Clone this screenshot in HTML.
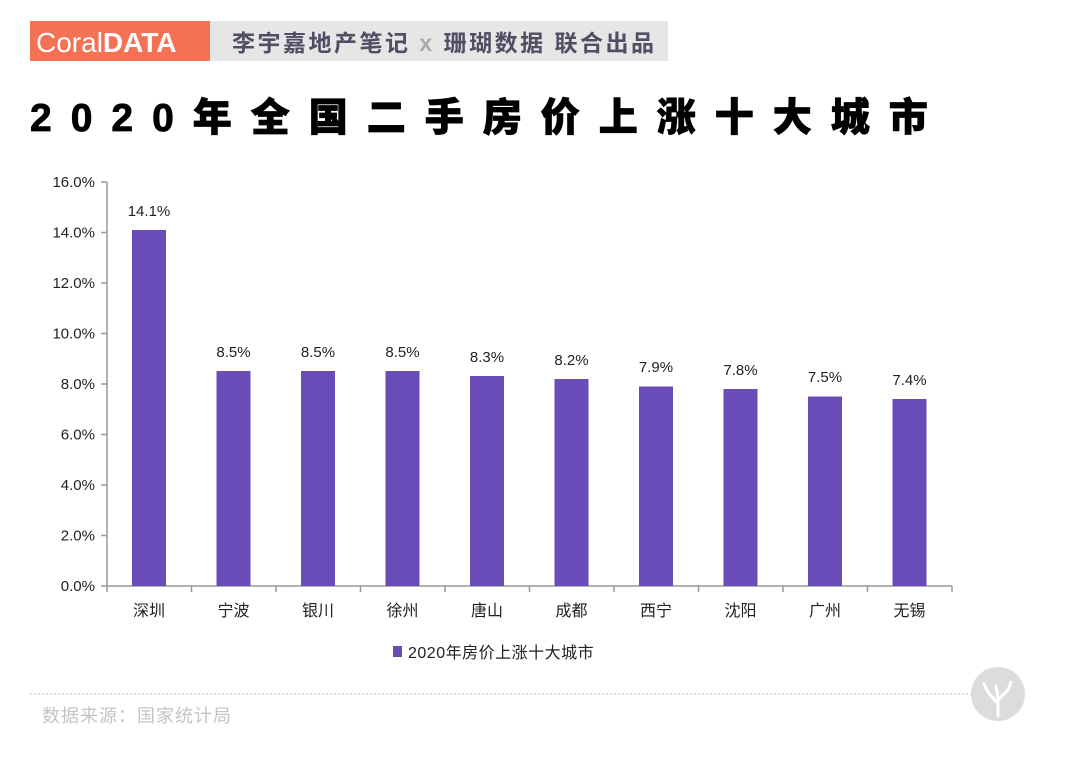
<!DOCTYPE html>
<html><head><meta charset="utf-8"><style>
body{margin:0;width:1080px;height:754px;background:#fff;overflow:hidden;font-family:"Liberation Sans","Noto Sans CJK SC",sans-serif;}
</style></head><body>
<svg width="1080" height="754" xmlns="http://www.w3.org/2000/svg" font-family="Liberation Sans, Noto Sans CJK SC, sans-serif">
<rect x="30" y="21" width="180" height="40" fill="#f47254"/>
<rect x="210" y="21" width="458" height="40" fill="#e6e6e6"/>
<text x="36" y="52" font-size="28" fill="#fff">Coral<tspan font-weight="bold">DATA</tspan></text>
<text x="232" y="51" font-size="23" font-weight="bold" fill="#4f4e63" letter-spacing="2.5">李宇嘉地产笔记 <tspan fill="#aaa">x</tspan> 珊瑚数据 联合出品</text>
<text x="30" y="131" font-size="39" font-weight="900" fill="#000" letter-spacing="19" stroke="#000" stroke-width="0.8">2020年全国二手房价上涨十大城市</text>
<g font-size="15" fill="#222" text-anchor="end">
<text x="95" y="591">0.0%</text><text x="95" y="540.5">2.0%</text><text x="95" y="490">4.0%</text><text x="95" y="439.5">6.0%</text><text x="95" y="389">8.0%</text><text x="95" y="338.5">10.0%</text><text x="95" y="288">12.0%</text><text x="95" y="237.5">14.0%</text><text x="95" y="187">16.0%</text>
</g>
<g stroke="#999" stroke-width="1.5">
<line x1="107" y1="182" x2="107" y2="592"/><line x1="101" y1="586" x2="952" y2="586"/>
<line x1="101" y1="182" x2="107" y2="182"/><line x1="101" y1="232.5" x2="107" y2="232.5"/><line x1="101" y1="283" x2="107" y2="283"/><line x1="101" y1="333.5" x2="107" y2="333.5"/><line x1="101" y1="384" x2="107" y2="384"/><line x1="101" y1="434.5" x2="107" y2="434.5"/><line x1="101" y1="485" x2="107" y2="485"/><line x1="101" y1="535.5" x2="107" y2="535.5"/>
<line x1="191.5" y1="586" x2="191.5" y2="592"/><line x1="276" y1="586" x2="276" y2="592"/><line x1="360.5" y1="586" x2="360.5" y2="592"/><line x1="445" y1="586" x2="445" y2="592"/><line x1="529.5" y1="586" x2="529.5" y2="592"/><line x1="614" y1="586" x2="614" y2="592"/><line x1="698.5" y1="586" x2="698.5" y2="592"/><line x1="783" y1="586" x2="783" y2="592"/><line x1="867.5" y1="586" x2="867.5" y2="592"/><line x1="952" y1="586" x2="952" y2="592"/>
</g>
<g fill="#694cb7">
<rect x="132" y="230" width="34" height="356"/>
<rect x="216.5" y="371" width="34" height="215"/>
<rect x="301" y="371" width="34" height="215"/>
<rect x="385.5" y="371" width="34" height="215"/>
<rect x="470" y="376" width="34" height="210"/>
<rect x="554.5" y="379" width="34" height="207"/>
<rect x="639" y="386.5" width="34" height="199.5"/>
<rect x="723.5" y="389" width="34" height="197"/>
<rect x="808" y="396.5" width="34" height="189.5"/>
<rect x="892.5" y="399" width="34" height="187"/>
</g>
<g font-size="15" fill="#222" text-anchor="middle">
<text x="149" y="216">14.1%</text><text x="233.5" y="357">8.5%</text><text x="318" y="357">8.5%</text><text x="402.5" y="357">8.5%</text><text x="487" y="362">8.3%</text><text x="571.5" y="365">8.2%</text><text x="656" y="372">7.9%</text><text x="740.5" y="375">7.8%</text><text x="825" y="382">7.5%</text><text x="909.5" y="385">7.4%</text>
</g>
<g font-size="16" fill="#222" text-anchor="middle">
<text x="149" y="616">深圳</text><text x="233.5" y="616">宁波</text><text x="318" y="616">银川</text><text x="402.5" y="616">徐州</text><text x="487" y="616">唐山</text><text x="571.5" y="616">成都</text><text x="656" y="616">西宁</text><text x="740.5" y="616">沈阳</text><text x="825" y="616">广州</text><text x="909.5" y="616">无锡</text>
</g>
<rect x="393" y="646" width="9" height="11" fill="#694cb7"/>
<text x="408" y="658" font-size="16" fill="#222" letter-spacing="0.5">2020年房价上涨十大城市</text>
<line x1="30" y1="694" x2="975" y2="694" stroke="#ccc" stroke-width="1.2" stroke-dasharray="2,2"/>
<text x="42" y="722" font-size="18" fill="#c4c4c4" letter-spacing="1">数据来源：国家统计局</text>
<circle cx="998" cy="694" r="27" fill="#dcdcdc"/>
<path d="M998 716 L998 698 M998 704 L988 692 M998 700 L1008 690 M988 692 L984 684 M1008 690 L1011 682 M998 698 L996 686" stroke="#fff" stroke-width="3" fill="none" stroke-linecap="round"/>
</svg>
</body></html>
